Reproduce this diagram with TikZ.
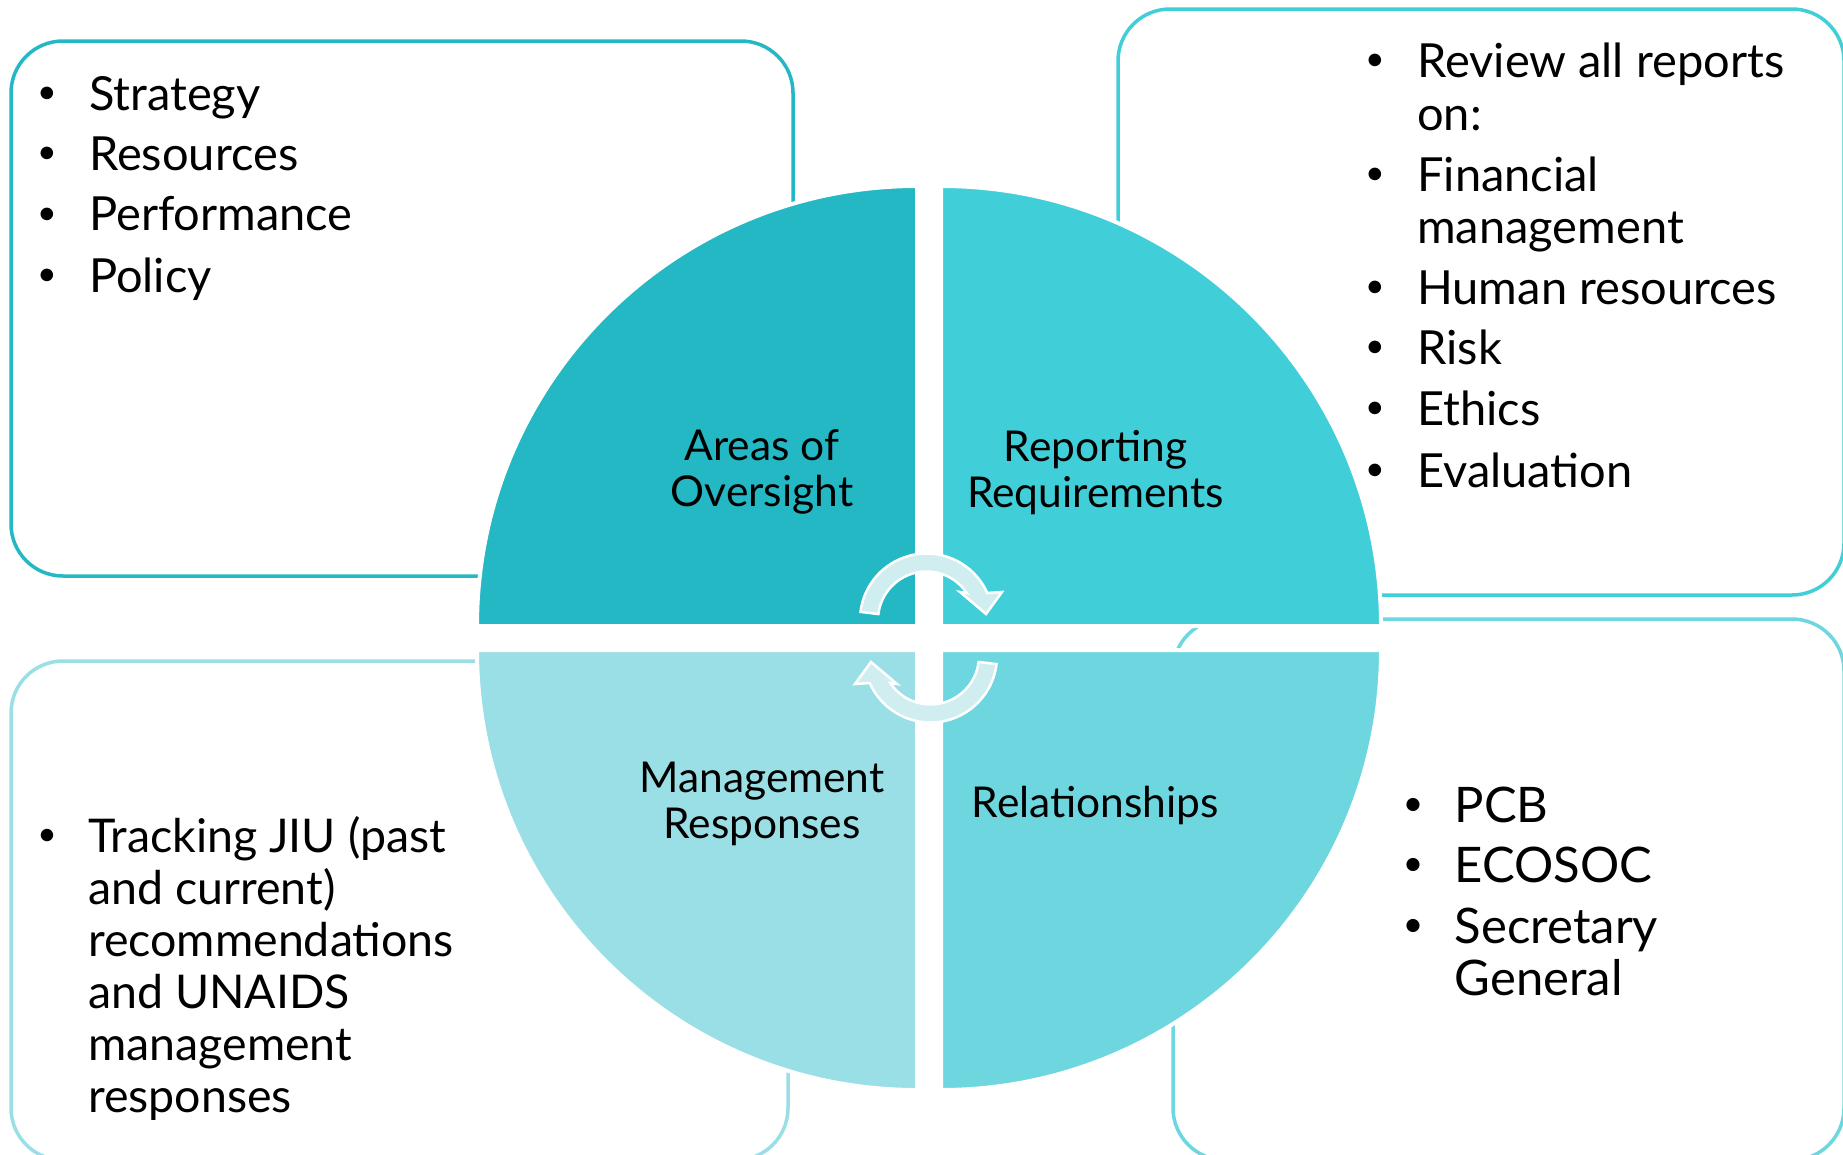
\documentclass[tikz,border=0pt]{standalone}
\usepackage{fontspec}
\setmainfont{Lato}
\usepackage{xcolor}
\usepackage{graphicx}
\usetikzlibrary{positioning}
\definecolor{tealA}{RGB}{35,184,195}
\definecolor{tealB}{RGB}{64,206,216}
\definecolor{tealC}{RGB}{154,223,229}
\definecolor{tealD}{RGB}{109,214,223}
\definecolor{cyclefill}{RGB}{208,237,240}
\newcommand{\bdot}{\raisebox{0.14em}{\scalebox{0.72}{\textbullet}}}

\begin{document}
\begin{tikzpicture}[x=1pt, y=-1pt,
    frame/.style={rounded corners=52pt, line width=3.5pt},
    quad/.style={draw=white, line width=4pt},
    cycle arrow/.style={fill=cyclefill, draw=white, line width=2.5pt},
    lbl/.style={anchor=base, inner sep=0pt, font=\fontsize{42.5}{46}\selectfont},
    txt/.style={anchor=base west, inner sep=0pt},
    bul/.style={anchor=base, inner sep=0pt}]
    \useasboundingbox (0,0) rectangle (1843,1154);

    % boxes behind the circle
    \draw[frame, tealA] (11,41) rectangle (793,576);
    \draw[frame, tealB] (1118,9) rectangle (1844,595);
    \draw[frame, tealC] (11,661) rectangle (788,1160);
    \draw[frame, tealD] (1173,619) rectangle (1844,1160);

    % the four quarters
    \path[quad, fill=tealA] (917,626) -- (477,626) arc[start angle=180, end angle=270, radius=440] -- cycle;
    \path[quad, fill=tealB] (941,626) -- (941,186) arc[start angle=270, end angle=360, radius=440] -- cycle;
    \path[quad, fill=tealC] (917,650) -- (477,650) arc[start angle=180, end angle=90, radius=440] -- cycle;
    \path[quad, fill=tealD] (941,650) -- (1381,650) arc[start angle=0, end angle=90, radius=440] -- cycle;

    % circular arrows in the middle
    \foreach \cx/\cy/\rot in {926.5/620/0, 930.5/656/180} {
      \begin{scope}[shift={(\cx,\cy)}, yscale=-1, rotate=\rot]
        \path[cycle arrow] (173:66.5) arc[start angle=173, end angle=24, radius=66.5]
          -- (75.5,28) -- (59.5,6) -- (33.5,28) -- (33.8:48.5)
          arc[start angle=33.8, end angle=173, radius=48.5] -- cycle;
      \end{scope}
    }

    % quarter labels
    \node[lbl] (areas) at (762,460) {\begin{tabular}[t]{@{}c@{}}Areas of\\Oversight\end{tabular}};
    \node[lbl] (reporting) at (1095.5,461) {\begin{tabular}[t]{@{}c@{}}Reporting\\Requirements\end{tabular}};
    \node[lbl] (mgmt) at (762,792) {\begin{tabular}[t]{@{}c@{}}Management\\Responses\end{tabular}};
    \node[lbl] (relations) at (1095.5,817) {Relationships};

    % box texts
    \begin{scope}[font=\fontsize{47}{56}\selectfont]
      \foreach \y/\t [count=\i] in {110/Strategy, 170/Resources, 230.6/Performance, 292/Policy} {
        \node[txt] (tl-\i) at (89,\y) {\t};
        \node[bul] (tlb-\i) at (47,\y) {\bdot};
      }
    \end{scope}
    \begin{scope}[font=\fontsize{47}{52}\selectfont]
      \foreach \y/\b/\t [count=\i] in {77.5/1/Review all reports, 130/0/on:, 191/1/Financial,
          243/0/management, 304/1/Human resources, 364/1/Risk, 425.5/1/Ethics, 487/1/Evaluation} {
        \node[txt] (tr-\i) at (1417,\y) {\t};
        \ifnum\b=1 \node[bul] (trb-\i) at (1375,\y) {\bdot}; \fi
      }
    \end{scope}
    \begin{scope}[font=\fontsize{46.5}{52}\selectfont]
      \foreach \y/\b/\t [count=\i] in {852/1/Tracking JIU (past, 904/0/and current), 956/0/recommendations,
          1008/0/and UNAIDS, 1060/0/management, 1112/0/responses} {
        \node[txt] (bl-\i) at (88,\y) {\t};
        \ifnum\b=1 \node[bul] (blb-\i) at (47,\y) {\bdot}; \fi
      }
    \end{scope}
    \begin{scope}[font=\fontsize{49}{52}\selectfont]
      \foreach \y/\b/\t [count=\i] in {822/1/PCB, 882.6/1/ECOSOC, 943/1/Secretary, 995.6/0/General} {
        \node[txt] (br-\i) at (1454.5,\y) {\t};
        \ifnum\b=1 \node[bul] (brb-\i) at (1413,\y) {\bdot}; \fi
      }
    \end{scope}
\end{tikzpicture}
\end{document}
